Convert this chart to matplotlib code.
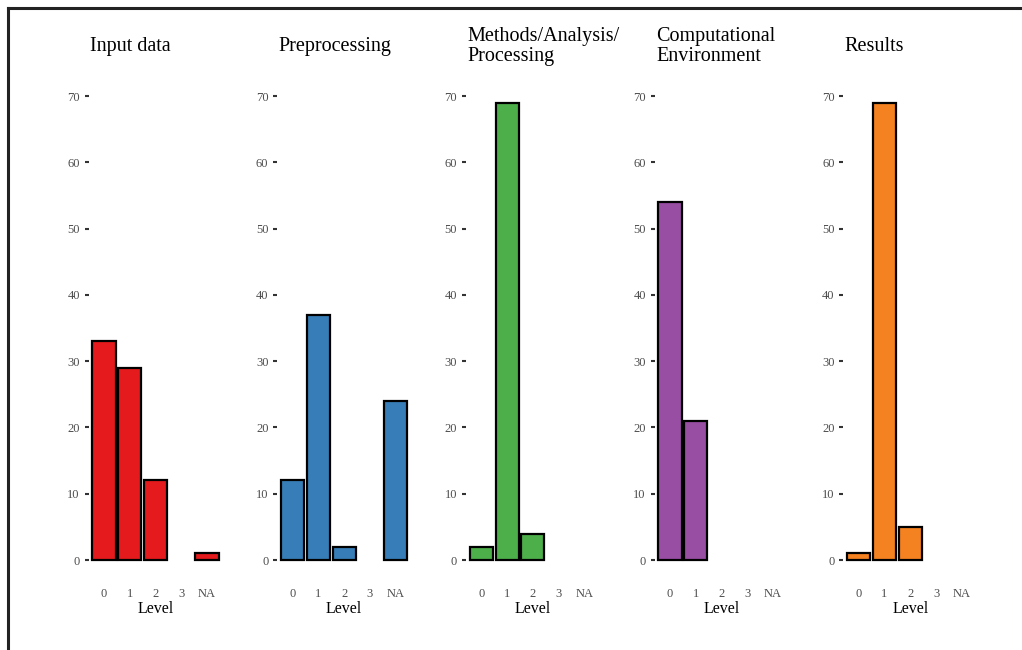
import matplotlib
matplotlib.use("Agg")
import matplotlib.pyplot as plt
from matplotlib.lines import Line2D

# data (counts per level, zero bars are not drawn)
levels = ["0", "1", "2", "3", "NA"]
titles = ["Input data", "Preprocessing", "Methods/Analysis/\nProcessing",
          "Computational\nEnvironment", "Results"]
input_data = [33, 29, 12, 0, 1]
preprocessing = [12, 37, 2, 0, 24]
methods = [2, 69, 4, 0, 0]
comp_env = [54, 21, 0, 0, 0]
results = [1, 69, 5, 0, 0]
counts = [input_data, preprocessing, methods, comp_env, results]
colors = ["#E41A1C", "#377EB8", "#4DAF4A", "#984EA3", "#F58220"]
yticks = [0, 10, 20, 30, 40, 50, 60, 70]

# styling
W, H = 1022, 650
serif = "Liberation Serif"
grey = "#4D4D4D"
plt.rcParams["font.family"] = serif

fig = plt.figure(figsize=(W / 100, H / 100), dpi=100)

# frame of the original screenshot (top and left edge)
fig.add_artist(Line2D([8 / W, 8 / W], [0, 1 - 8 / H], color="#222222", lw=2.2))
fig.add_artist(Line2D([8 / W, 1], [1 - 8 / H, 1 - 8 / H], color="#222222", lw=2.2))

lefts = [88.5, 277.2, 465.9, 654.6, 843.3]
ax_w = 5.2 * 25.75
ax_top, ax_bot = 79.8, 582.9

for i in range(5):
    ax = fig.add_axes([lefts[i] / W, 1 - ax_bot / H, ax_w / W, (ax_bot - ax_top) / H])
    xs = [j for j, v in enumerate(counts[i]) if v > 0]
    vals = [v for v in counts[i] if v > 0]
    ax.bar(xs, vals, width=0.9, color=colors[i], edgecolor="black", linewidth=1.6)
    ax.set_xlim(-0.6, 4.6)
    ax.set_ylim(-3.45, 72.45)
    ax.set_xticks(range(len(levels)))
    ax.set_xticklabels(levels)
    ax.set_yticks(yticks)
    for s in ax.spines.values():
        s.set_visible(False)
    ax.tick_params(axis="x", length=0, pad=3.5, labelsize=9, labelcolor=grey)
    ax.tick_params(axis="y", length=2.8, width=1.5, color="#333333", pad=3.5,
                   labelsize=9, labelcolor=grey)
    ax.set_xlabel("Level", fontsize=11.5, labelpad=1)
    fig.text(lefts[i] / W + 1.5 / W, 1 - 46.5 / H, titles[i], fontsize=14.5,
             ha="left", va="center", linespacing=1.12)

plt.savefig("out.png", dpi=100)
